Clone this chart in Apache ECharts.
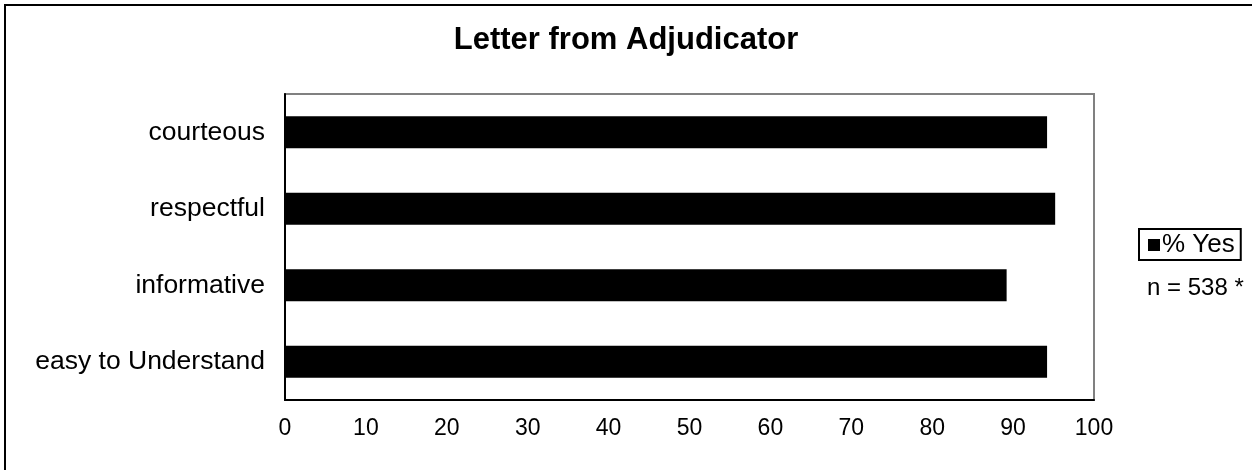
<!DOCTYPE html>
<html>
<head>
<meta charset="utf-8">
<script src="https://cdn.jsdelivr.net/npm/echarts@6/dist/echarts.min.js"></script>
<style>
  html, body { margin: 0; padding: 0; background: #fff; }
  #chart { width: 1252px; height: 470px; }
</style>
</head>
<body>
<div id="chart"></div>
<script>
// Survey answers about the adjudicator's letter
const categories = ['courteous', 'respectful', 'informative', 'easy to Understand'];
const yesPercent = [94.2, 95.2, 89.2, 94.2];
const xTicks = [0, 10, 20, 30, 40, 50, 60, 70, 80, 90, 100];
const seriesName = '% Yes';
const sampleNote = 'n = 538 *';

const FONT = 'Liberation Sans, Arial, sans-serif';

const chart = echarts.init(document.getElementById('chart'));
chart.setOption({
  backgroundColor: '#fff',
  animation: false,
  title: {
    text: 'Letter from Adjudicator',
    left: 'center',
    top: 20,
    textStyle: { fontFamily: FONT, fontSize: 31, fontWeight: 'bold', color: '#000' }
  },
  grid: {
    left: 285, right: 158, top: 94, bottom: 70,
    show: true, borderColor: '#808080', borderWidth: 2, backgroundColor: '#fff'
  },
  legend: {
    data: [seriesName],
    orient: 'vertical',
    left: 1139, top: 229,
    padding: [3, 6, 2, 9],
    borderColor: '#000', borderWidth: 2,
    icon: 'rect', itemWidth: 12, itemHeight: 12, itemGap: 0,
    itemStyle: { color: '#000' },
    textStyle: { fontFamily: FONT, fontSize: 26, color: '#000', padding: [0, 0, 0, -3] }
  },
  xAxis: {
    type: 'value',
    min: xTicks[0], max: xTicks[xTicks.length - 1], interval: 10,
    axisLine: { show: true, lineStyle: { color: '#000', width: 2 } },
    axisTick: { show: false },
    splitLine: { show: false },
    axisLabel: { fontFamily: FONT, fontSize: 23, color: '#000', margin: 17 }
  },
  yAxis: {
    type: 'category',
    data: categories,
    inverse: true,
    axisLine: { show: true, lineStyle: { color: '#000', width: 2 } },
    axisTick: { show: false },
    axisLabel: { fontFamily: FONT, fontSize: 26.5, color: '#000', margin: 20 }
  },
  series: [{
    name: seriesName,
    type: 'bar',
    data: yesPercent,
    barWidth: 32,
    itemStyle: { color: '#000' }
  }],
  graphic: [
    {
      type: 'rect',
      shape: { x: 5, y: 5, width: 1400, height: 600 },
      style: { fill: null, stroke: '#000', lineWidth: 2 },
      silent: true
    },
    {
      type: 'text',
      left: 1147, top: 276,
      style: { text: sampleNote, font: '24px ' + FONT, fill: '#000' }
    }
  ]
});
</script>
</body>
</html>
